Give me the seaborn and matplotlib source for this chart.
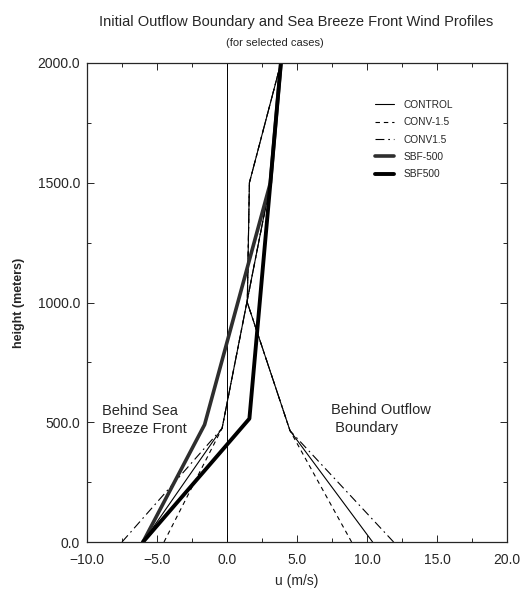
import matplotlib
matplotlib.use("Agg")
import matplotlib.pyplot as plt
from matplotlib import font_manager
from matplotlib.lines import Line2D
from matplotlib.ticker import MultipleLocator, FuncFormatter
import seaborn as sns
import numpy as np

# ---- data ----
h_sbf = [0, 475, 1500, 2000]
u_control_sbf = [-6.0, -0.35, 3.1, 3.85]
u_convm_sbf = [-4.5, -0.35, 3.1, 3.85]
u_convp_sbf = [-7.5, -0.35, 3.1, 3.85]

h_out = [0, 465, 1000, 1500, 2000]
u_control_out = [10.4, 4.5, 1.45, 1.6, 3.85]
u_convm_out = [8.9, 4.5, 1.45, 1.6, 3.85]
u_convp_out = [11.9, 4.5, 1.45, 1.6, 3.85]

h_sbfm500 = [0, 490, 1500, 2000]
u_sbfm500 = [-6.0, -1.6, 3.1, 3.85]
h_sbf500 = [0, 515, 1500, 2000]
u_sbf500 = [-6.0, 1.6, 3.1, 3.85]

case_labels = ["CONTROL", "CONV-1.5", "CONV1.5", "SBF-500", "SBF500"]
x_ticks = [-10, -5, 0, 5, 10, 15, 20]
y_ticks = [0, 500, 1000, 1500, 2000]

sns.set_style("ticks")
names = {f.name for f in font_manager.fontManager.ttflist}
narrow = "Liberation Sans Narrow" in names
NFAM = ["Liberation Sans Narrow", "Liberation Sans", "DejaVu Sans"] if narrow else ["Liberation Sans", "DejaVu Sans"]
nscale = 1.0 if narrow else 0.84
plt.rcParams["font.family"] = ["Liberation Sans", "DejaVu Sans"]

fig = plt.figure(figsize=(5.21, 5.96), dpi=100)
ax = fig.add_axes([87/521, 1-542/596, (507-87)/521, (542-63)/596])

thin = 0.8
styles = {
    "CONTROL": dict(color="black", lw=thin, ls="-"),
    "CONV-1.5": dict(color="black", lw=thin, ls=(0, (4, 3.5))),
    "CONV1.5": dict(color="black", lw=thin, ls=(0, (8, 3.5, 1.5, 3.5))),
    "SBF-500": dict(color="#2e2e2e", lw=2.6, ls="-"),
    "SBF500": dict(color="black", lw=2.8, ls="-"),
}

def draw(u, h, key):
    st = styles[key]
    sns.lineplot(x=u, y=h, sort=False, estimator=None, ax=ax, color=st["color"],
                 linewidth=st["lw"], linestyle=st["ls"], legend=False)

ax.axvline(0, color="black", lw=0.7)
draw(u_control_sbf, h_sbf, "CONTROL")
draw(u_control_out, h_out, "CONTROL")
draw(u_convm_sbf, h_sbf, "CONV-1.5")
draw(u_convm_out, h_out, "CONV-1.5")
draw(u_convp_sbf, h_sbf, "CONV1.5")
draw(u_convp_out, h_out, "CONV1.5")
draw(u_sbfm500, h_sbfm500, "SBF-500")
draw(u_sbf500, h_sbf500, "SBF500")

ax.set_xlim(-10, 20)
ax.set_ylim(0, 2000)
ax.set_xticks(x_ticks)
ax.set_yticks(y_ticks)
ax.xaxis.set_minor_locator(MultipleLocator(2.5))
ax.yaxis.set_minor_locator(MultipleLocator(250))
fmt = FuncFormatter(lambda v, p: f"{v:.1f}".replace("-", "\u2212"))
ax.xaxis.set_major_formatter(fmt)
ax.yaxis.set_major_formatter(fmt)
ax.tick_params(which="both", direction="in", top=True, right=True, width=0.7, labelsize=10)
ax.tick_params(axis="x", which="major", pad=8)
ax.tick_params(axis="y", which="major", pad=5)
ax.tick_params(which="major", length=5)
ax.tick_params(which="minor", length=3)
for s in ax.spines.values():
    s.set_linewidth(0.9)
ax.set_xlabel("u (m/s)", fontsize=10, labelpad=5)
ax.set_ylabel("height (meters)", fontsize=9, fontweight="bold", labelpad=9)

handles = [Line2D([], [], color=styles[k]["color"], lw=styles[k]["lw"], ls=styles[k]["ls"]) for k in case_labels]
leg = ax.legend(handles, case_labels, loc="upper left", bbox_to_anchor=(375/521, 1-100/596),
                bbox_transform=fig.transFigure, frameon=False, fontsize=7.3, handlelength=1.9,
                handletextpad=0.9, labelspacing=0.72, borderpad=0, borderaxespad=0)

ax.text(-8.9, 509, "Behind Sea\nBreeze Front", fontsize=12.5*nscale, family=NFAM,
        ha="left", va="center", linespacing=1.35)
ax.text(7.4, 513, "Behind Outflow\n Boundary", fontsize=12.5*nscale, family=NFAM,
        ha="left", va="center", linespacing=1.35)

fig.text(296/521, 1-22/596, "Initial Outflow Boundary and Sea Breeze Front Wind Profiles",
         fontsize=12.5*nscale, family=NFAM, ha="center", va="center")
fig.text(275/521, 1-43/596, "(for selected cases)", fontsize=9.5*nscale, family=NFAM,
         ha="center", va="center")

fig.savefig("out.png", dpi=100)
